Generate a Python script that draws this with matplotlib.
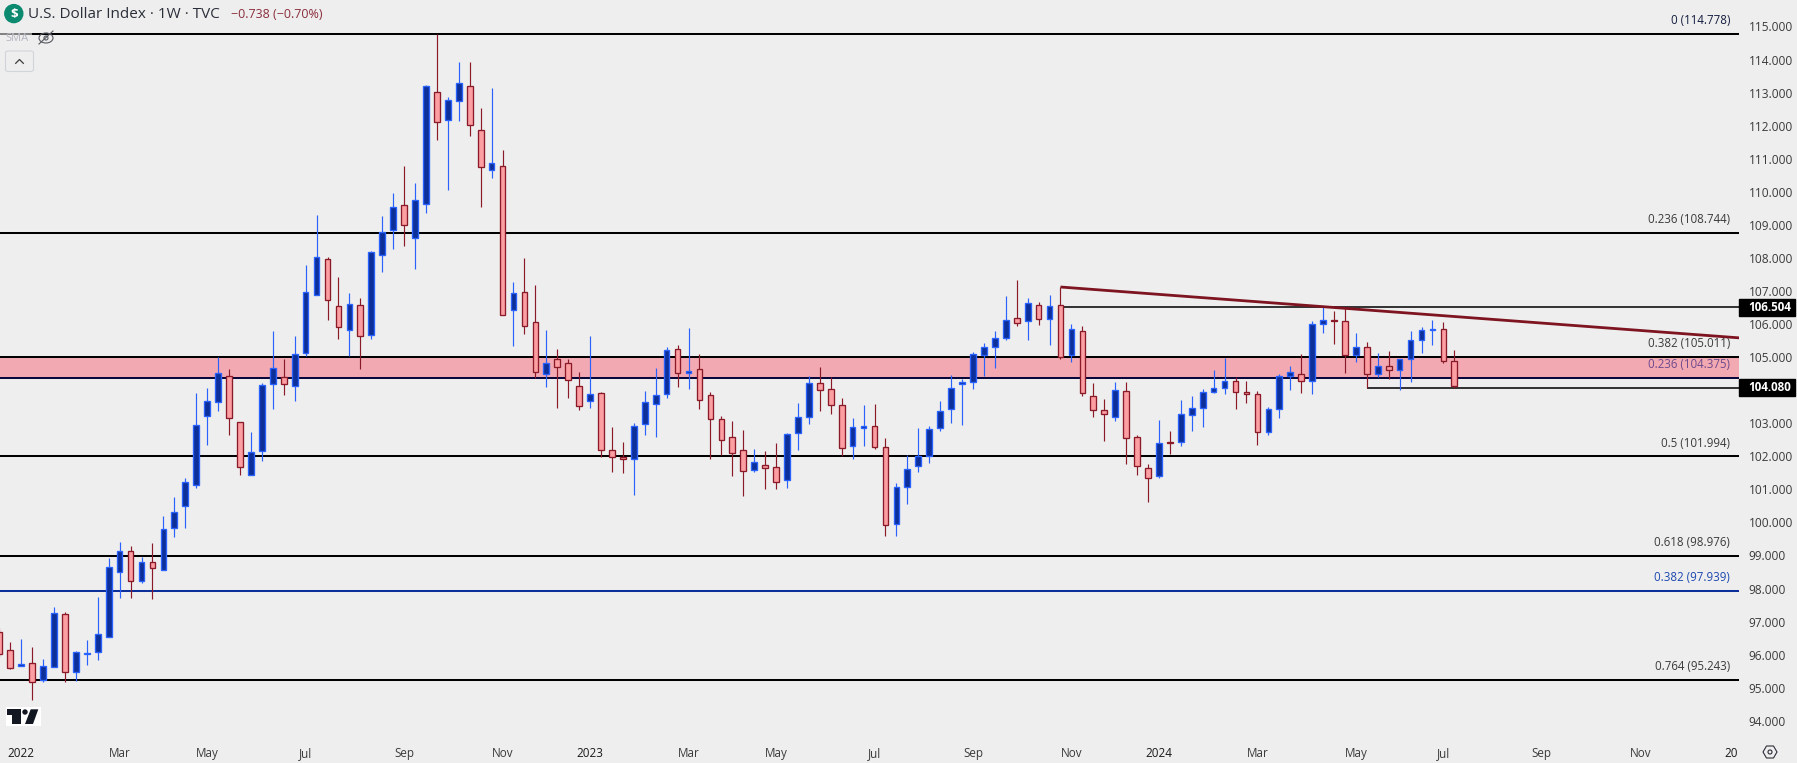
import matplotlib
matplotlib.use("Agg")
import matplotlib.pyplot as plt
from matplotlib.patches import Ellipse, FancyBboxPatch, Polygon, Rectangle

# -- Data

opens = [96.68, 96.14, 95.65, 95.74, 95.23, 95.62, 97.22, 95.47, 96.03, 96.07,
         96.53, 98.49, 99.13, 98.22, 98.80, 98.55, 99.82, 100.49, 101.12, 103.21,
         103.63, 104.44, 103.03, 101.43, 102.15, 104.18, 104.41, 104.12, 105.12, 106.87,
         107.96, 106.54, 105.81, 106.57, 105.66, 108.08, 108.84, 109.59, 108.59, 109.62,
         113.01, 112.16, 112.74, 113.19, 111.86, 110.65, 110.77, 106.42, 106.96, 106.05,
         104.48, 104.93, 104.81, 104.12, 103.66, 103.91, 102.18, 101.97, 101.91, 102.97,
         103.57, 103.88, 105.24, 104.51, 104.63, 103.85, 103.12, 102.58, 102.18, 101.58,
         101.73, 101.67, 101.28, 102.70, 103.18, 104.21, 104.03, 103.54, 102.30, 102.85,
         102.91, 102.27, 99.95, 101.06, 101.70, 102.00, 102.85, 103.42, 104.18, 104.24,
         105.06, 105.30, 105.57, 106.17, 106.08, 106.57, 106.14, 106.57, 105.06, 105.78,
         103.82, 103.39, 103.18, 103.97, 102.58, 101.64, 101.40, 102.43, 102.43, 103.24,
         103.45, 103.94, 104.06, 104.27, 103.94, 103.88, 102.73, 103.42, 104.42, 104.48,
         104.27, 105.99, 106.11, 106.08, 105.06, 105.30, 104.48, 104.72, 104.60, 104.93,
         105.51, 105.83, 105.84, 104.87]
closes = [96.01, 95.59, 95.71, 95.17, 95.65, 97.25, 95.47, 96.07, 96.05, 96.62,
          98.64, 99.13, 98.22, 98.80, 98.61, 99.79, 100.31, 101.22, 102.94, 103.66,
          104.53, 103.15, 101.67, 102.12, 104.15, 104.68, 104.18, 105.10, 106.98, 108.04,
          106.72, 105.90, 106.60, 105.63, 108.17, 108.78, 109.53, 108.99, 109.74, 113.19,
          112.10, 112.77, 113.28, 112.01, 110.74, 110.86, 106.27, 106.94, 105.93, 104.54,
          104.81, 104.69, 104.30, 103.51, 103.88, 102.18, 101.99, 101.91, 102.91, 103.63,
          103.85, 105.21, 104.51, 104.57, 103.70, 103.12, 102.49, 102.09, 101.55, 101.82,
          101.64, 101.22, 102.67, 103.18, 104.21, 104.00, 103.54, 102.24, 102.88, 102.91,
          102.27, 99.92, 101.06, 101.61, 102.00, 102.82, 103.36, 104.06, 104.24, 105.09,
          105.30, 105.57, 106.11, 106.02, 106.63, 106.14, 106.54, 105.00, 105.84, 103.91,
          103.39, 103.27, 104.00, 102.55, 101.70, 101.34, 102.39, 102.39, 103.27, 103.45,
          103.94, 104.06, 104.27, 103.94, 103.88, 102.73, 103.42, 104.42, 104.54, 104.27,
          105.99, 106.11, 106.09, 105.06, 105.30, 104.48, 104.72, 104.60, 104.93, 105.51,
          105.81, 105.84, 104.87, 104.12]
highs = [96.80, 96.38, 96.47, 96.23, 95.86, 97.44, 97.28, 96.11, 96.44, 97.74,
         98.93, 99.40, 99.28, 98.96, 99.37, 100.20, 100.77, 101.34, 103.91, 104.06,
         105.00, 104.64, 103.05, 102.73, 104.21, 105.78, 104.93, 105.63, 107.78, 109.29,
         108.02, 107.41, 106.93, 106.78, 108.20, 109.26, 109.95, 110.77, 110.26, 113.23,
         114.78, 112.86, 113.92, 113.92, 112.53, 113.13, 111.26, 107.27, 107.99, 107.18,
         105.82, 105.25, 104.94, 104.55, 105.64, 103.95, 102.89, 102.43, 103.00, 103.98,
         104.67, 105.30, 105.37, 105.88, 105.10, 103.95, 103.22, 103.07, 102.80, 102.22,
         102.16, 102.40, 102.71, 103.60, 104.42, 104.70, 104.39, 103.76, 103.16, 103.55,
         103.58, 102.55, 101.19, 102.04, 102.86, 102.92, 103.67, 104.45, 104.34, 105.15,
         105.43, 105.79, 106.85, 107.33, 106.79, 106.67, 106.88, 107.12, 106.00, 105.94,
         104.22, 103.73, 104.25, 104.25, 102.65, 101.77, 103.10, 102.77, 103.70, 103.82,
         104.04, 104.61, 104.97, 104.40, 104.27, 103.98, 103.49, 104.48, 104.73, 105.10,
         106.08, 106.52, 106.40, 106.52, 105.73, 105.45, 105.13, 105.19, 104.95, 105.79,
         105.91, 106.12, 106.06, 105.22]
lows = [95.94, 95.58, 95.65, 94.63, 95.16, 95.62, 95.16, 95.19, 95.69, 95.84,
        96.53, 97.72, 97.72, 98.17, 97.69, 98.55, 99.56, 99.83, 101.04, 102.34,
        103.37, 102.65, 101.44, 101.43, 101.87, 103.43, 103.86, 103.67, 105.03, 106.87,
        106.12, 105.55, 105.03, 104.64, 105.55, 107.57, 108.27, 108.36, 107.67, 109.36,
        111.57, 110.05, 112.14, 111.69, 109.54, 110.42, 106.27, 105.34, 105.71, 104.36,
        104.10, 103.46, 103.76, 103.40, 103.46, 101.98, 101.53, 101.50, 100.83, 102.65,
        102.59, 103.76, 104.10, 104.04, 103.43, 101.92, 102.04, 101.41, 100.80, 101.53,
        101.01, 101.01, 101.04, 102.19, 102.98, 103.37, 103.28, 102.01, 101.92, 102.31,
        102.22, 99.59, 99.59, 100.56, 101.53, 101.80, 102.77, 103.01, 102.95, 104.04,
        104.43, 104.67, 105.52, 105.94, 105.52, 105.97, 105.37, 104.94, 104.85, 103.82,
        103.19, 102.46, 103.07, 101.77, 101.44, 100.62, 101.34, 102.07, 102.31, 102.77,
        102.89, 103.92, 103.89, 103.43, 103.61, 102.34, 102.65, 103.16, 104.01, 103.92,
        103.89, 105.73, 105.40, 104.52, 104.85, 104.07, 104.40, 104.34, 104.01, 104.25,
        105.13, 105.37, 104.82, 104.07]

# Fib levels
fib_labels = ["0 (114.778)", "0.236 (108.744)", "0.382 (105.011)", "0.236 (104.375)",
              "0.5 (101.994)", "0.618 (98.976)", "0.382 (97.939)", "0.764 (95.243)"]
fib_prices = [114.778, 108.744, 105.011, 104.375, 101.994, 98.976, 97.939, 95.243]
fib_line_colors = ["#000000", "#000000", "#000000", "#08083a",
                   "#000000", "#000000", "#0d2f99", "#000000"]
fib_text_colors = ["#131c3f", "#3a3a3a", "#3a3a3a", "#6d4a8c",
                   "#3a3a3a", "#3a3a3a", "#1d48b0", "#3a3a3a"]

# 104.000 is hidden behind the 104.080 tag on the real chart
y_ticks = [t for t in range(94, 116) if t != 104]
date_pos = [2, 11, 19, 28, 37, 46, 54, 63, 71, 80, 89, 98, 106, 115, 124, 132, 141, 150, 158.3]
date_labels = ["2022", "Mar", "May", "Jul", "Sep", "Nov", "2023", "Mar", "May", "Jul", "Sep",
               "Nov", "2024", "Mar", "May", "Jul", "Sep", "Nov", "20"]

# Horizontal rays: first candle and price
ray_starts = [97, 125]
ray_prices = [106.504, 104.080]
trend_x = [97, 159.1]
trend_y = [107.12, 105.58]

W, H = 1797, 763
BG = "#eeeeee"
FONT = "Open Sans"
UP_BODY, UP_EDGE = "#0d2f99", "#2962ff"
DOWN_BODY, DOWN_EDGE = "#fb9fa3", "#8b1a28"


def px(x, y):
    # Screen pixel to figure coords, for the chrome drawn over the chart.
    return x / W, 1 - y / H


def px_line(points, **style):
    xs = [px(*p)[0] for p in points]
    ys = [px(*p)[1] for p in points]
    return plt.Line2D(xs, ys, transform=plt.gcf().transFigure, **style)


def px_ellipse(x, y, w, h, **style):
    return Ellipse(px(x, y), w / W, h / H, transform=plt.gcf().transFigure, **style)


def add_chrome(fig):
    # Header line
    fig.add_artist(px_ellipse(13.8, 13.6, 18, 18, color="#0b8a70"))
    fig.text(*px(13.8, 14), "$", color="white", fontsize=9.5, fontweight="bold",
             family=FONT, ha="center", va="center")
    fig.text(*px(27.5, 14), "U.S. Dollar Index · 1W · TVC", color="#2a2e39", fontsize=11.0,
             family=FONT, ha="left", va="center")
    fig.text(*px(231, 14), "−0.738 (−0.70%)", color="#8a2d3b", fontsize=9.0,
             family=FONT, ha="left", va="center")

    # Legend strip washes out the top fib line a little
    fig.add_artist(Rectangle(px(0, 46), 32 / W, 14 / H, transform=fig.transFigure,
                             color=BG, alpha=0.55, lw=0))
    fig.text(*px(5, 38.5), "SMA", color="#b4b6c0", fontsize=8.0, family=FONT, ha="left", va="center")
    fig.add_artist(px_ellipse(46, 38, 14, 10, fc="none", ec="#55585f", lw=0.8))
    fig.add_artist(px_ellipse(46, 38, 4, 4, fc="none", ec="#55585f", lw=0.8))
    fig.add_artist(px_line([(39, 44), (53, 31)], color="#55585f", lw=0.8))

    # Collapse button
    fig.add_artist(FancyBboxPatch(px(5.5, 71.5), 28 / W, 20.5 / H, transform=fig.transFigure,
                                  boxstyle="round,pad=0,rounding_size=0.002",
                                  fc="none", ec="#d2d4dc", lw=0.8))
    fig.add_artist(px_line([(15.7, 63.3), (19.5, 59.5), (23.3, 63.3)], color="#3a3a3a", lw=0.9))

    # TradingView logo
    fig.add_artist(Rectangle(px(6, 725.7), 34.7 / W, 18.4 / H, transform=fig.transFigure,
                             color="white", lw=0))
    logo_t = [(7.3, 709.3), (20.7, 709.3), (20.7, 724), (12.3, 724), (12.3, 715), (7.3, 715)]
    logo_s = [(30.7, 709.3), (38.3, 709.3), (33, 724), (25, 724)]
    for shape in (logo_t, logo_s):
        fig.add_artist(Polygon([px(*p) for p in shape], transform=fig.transFigure,
                               color="#131722", lw=0))
    fig.add_artist(px_ellipse(25, 712, 5.4, 5.4, color="#131722", lw=0))

    # Settings hexagon, bottom right corner
    hexagon = [(1763, 752), (1766.5, 746), (1773.5, 746), (1777, 752), (1773.5, 758), (1766.5, 758)]
    fig.add_artist(Polygon([px(*p) for p in hexagon], transform=fig.transFigure,
                           fc="none", ec="#2a2e39", lw=0.8))
    fig.add_artist(px_ellipse(1770, 752, 4, 4, fc="none", ec="#2a2e39", lw=0.8))


def plot_candles(ax):
    # Wicks first, then bodies on top of them.
    for i in range(len(opens)):
        up = closes[i] >= opens[i]
        ax.vlines(i, lows[i], highs[i], color=UP_EDGE if up else DOWN_EDGE, lw=0.85, zorder=4)
        ax.bar(i, abs(closes[i] - opens[i]), width=0.52, bottom=min(opens[i], closes[i]),
               facecolor=UP_BODY if up else DOWN_BODY,
               edgecolor=UP_EDGE if up else DOWN_EDGE, linewidth=0.95, zorder=5)


def plot_levels(ax):
    ax.axhspan(fib_prices[3], fib_prices[2], color="#f2a9b2", lw=0, zorder=1)
    for price, line_color in zip(fib_prices, fib_line_colors):
        ax.axhline(price, color=line_color, lw=1.45, zorder=2)
    for start, price in zip(ray_starts, ray_prices):
        ax.hlines(price, start, 159.1, color="#1a1a1a", lw=1.25, zorder=3)
    ax.plot(trend_x, trend_y, color="#7d1420", lw=2.0, zorder=6, solid_capstyle="butt")
    # Fib text sits just above each line, right aligned against the scale
    for label, price, text_color in zip(fib_labels, fib_prices, fib_text_colors):
        ax.annotate(label, xy=(1, price), xycoords=ax.get_yaxis_transform(),
                    xytext=(-6.5, 5), textcoords="offset points", ha="right", va="bottom",
                    color=text_color, fontsize=8.3, family=FONT, zorder=7)


def plot_price_tags(ax):
    trans = ax.get_yaxis_transform()
    for price in ray_prices:
        ax.add_patch(Rectangle((1, price - 0.25), 56 / 1739, 0.5, transform=trans, color="black",
                               clip_on=False, zorder=8))
        ax.text(1.0055, price, f"{price:.3f}", transform=trans, color="white", fontsize=8.4,
                fontweight="bold", family=FONT, ha="left", va="center", zorder=9)


if __name__ == "__main__":
    fig = plt.figure(figsize=(W / 100, H / 100), dpi=100, facecolor=BG)
    ax = fig.add_axes([0, 25 / H, 1739 / W, 738 / H], facecolor=BG)
    ax.set_xlim(0.064, 159.02)
    ax.set_ylim(93.48, 115.80)

    plot_levels(ax)
    plot_candles(ax)
    plot_price_tags(ax)

    for side in ax.spines.values():
        side.set_visible(False)
    ax.yaxis.tick_right()
    ax.set_yticks(y_ticks)
    ax.set_yticklabels([f"{t}.000" for t in y_ticks], family=FONT, fontsize=8.6, color="#3a3a3a")
    ax.set_xticks(date_pos)
    ax.set_xticklabels(date_labels, family=FONT, fontsize=8.4, color="#3a3a3a")
    ax.tick_params(axis="both", length=0)
    ax.tick_params(axis="y", pad=7)
    ax.tick_params(axis="x", pad=6.5)
    for lab, txt in zip(ax.get_xticklabels(), date_labels):
        if txt in ("2022", "2023", "2024", "20"):
            lab.set_color("#1a1a1a")

    add_chrome(fig)

    fig.savefig("out.png", dpi=100, facecolor=BG)
